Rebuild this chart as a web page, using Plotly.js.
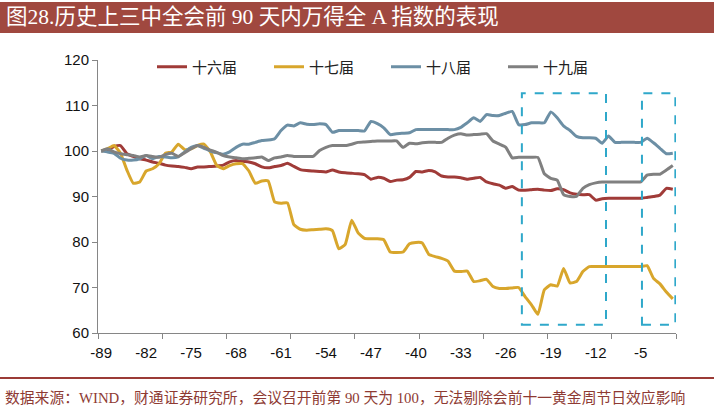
<!DOCTYPE html>
<html>
<head>
<meta charset="utf-8">
<script src="https://cdn.plot.ly/plotly-3.0.1.min.js"></script>
<style>
  body { margin: 0; background: #fff; }
  #chart { width: 714px; height: 419px; }
</style>
</head>
<body>
<div id="chart"></div>
<script>
// days before the plenum (day -89 = 100)
var days = [-89,-88,-87,-86,-85,-84,-83,-82,-81,-80,-79,-78,-77,-76,-75,-74,-73,-72,-71,-70,
  -69,-68,-67,-66,-65,-64,-63,-62,-61,-60,-59,-58,-57,-56,-55,-54,-53,-52,-51,-50,
  -49,-48,-47,-46,-45,-44,-43,-42,-41,-40,-39,-38,-37,-36,-35,-34,-33,-32,-31,-30,
  -29,-28,-27,-26,-25,-24,-23,-22,-21,-20,-19,-18,-17,-16,-15,-14,-13,-12,-11,-10,
  -9,-8,-7,-6,-5,-4,-3,-2,-1,0];

var tickDays = [-89,-82,-75,-68,-61,-54,-47,-40,-33,-26,-19,-12,-5];

var names = ['十六届', '十七届', '十八届', '十九届'];

var s16 = [100,100.3,101,101.2,99.4,98.8,98.3,98,97.6,97.3,96.9,96.7,96.6,96.4,96.1,96.5,96.5,96.6,96.7,96.9,
  97.6,97.9,97.7,97.6,97.2,96.5,96.3,96.6,96.8,97.3,96.6,95.9,95.7,95.6,95.5,95.4,95.8,95.4,95.2,95.1,
  95,94.8,93.8,94.2,94,93.3,93.6,93.7,94.2,95.5,95.4,95.7,95.4,94.5,94.3,94.3,94.1,93.8,94,94.2,
  93.2,92.8,92.5,91.8,92.2,91.4,91.4,91.5,91.6,91.4,91.3,91.7,91.5,90.8,90.5,90.4,90.4,89.2,89.5,89.6,
  89.6,89.6,89.6,89.6,89.6,89.8,90,90.3,91.8,91.6];

var s17 = [100,100.5,101.2,99.5,95.8,92.9,93.2,95.6,96.1,97.2,99.5,99.8,101.5,100.3,100.5,101.2,101.5,99.8,96.8,96.1,
  96.8,97.2,97.2,95.6,92.9,93.4,93.4,88.8,88.5,88.6,83.8,82.8,82.6,82.7,82.8,82.9,82.5,78.5,79.5,84.8,
  82,80.8,80.7,80.7,80.5,77.8,77.7,77.8,79.6,79.9,79.8,77.3,76.8,76.4,75.8,73.6,73.5,73.6,71.3,71.5,
  71.8,70.2,69.8,69.8,69.9,70,68,66.2,64.1,69.5,70.6,70.3,74.2,71,71.3,73.5,74.6,74.6,74.6,74.6,
  74.6,74.6,74.6,74.6,74.6,74.8,72,70.8,69,67.5];

var s18 = [100,99.8,99.5,98.4,98,98,98.3,99,98.3,98.8,98.7,98.5,98.7,99.8,100.8,101.2,100.6,100,99.6,99.3,
  99.8,100.8,101.5,101.5,101.9,102.3,102.4,102.7,104.5,105.7,105.5,106.2,105.9,105.8,106,105.8,104.1,104.5,104.5,104.5,
  104.5,104.4,106.5,106,105.1,103.6,103.8,103.9,104,104.7,104.7,104.7,104.7,104.7,104.7,104.7,105.2,106.2,107.3,106.5,
  108,107.8,107.8,108.3,108.7,105.8,105.8,106.2,106.2,106.2,108.6,107.3,105.5,104.5,103.2,102.9,102.9,102.8,101.7,103.3,
  101.9,101.9,101.9,101.9,101.9,102.8,101.8,100.6,99.4,99.5];

var s19 = [100,100.5,99.8,99.4,99.2,99,98.7,99,98.8,98.6,99.2,99.5,98.8,99.6,100.5,101.2,100.8,100.2,99.7,99,
  98.7,98.5,98.3,98.4,98.5,98.7,97.9,98.5,98.7,99,98.8,98.8,98.8,98.8,100.1,100.8,101.2,101.2,101.2,101.5,
  101.9,102,102.1,102.2,102.2,102.2,102.2,100.8,101.7,101.6,101.8,101.9,101.9,101.9,102.8,103.5,103.8,103.5,103.6,103.7,
  103.8,102.2,101.5,100.8,98.5,98.6,98.6,98.6,98.6,95,94,93.6,90.4,90,90,91.8,92.6,93,93.2,93.2,
  93.2,93.2,93.2,93.2,93.2,94.7,94.9,94.9,95.8,96.8];

var colors = ['#A03B38', '#D8A62C', '#6C8FA5', '#808080'];
var series = [s16, s17, s18, s19];

var traces = series.map(function(s, k) {
  return {
    x: days,
    y: s,
    name: names[k],
    type: 'scatter',
    mode: 'lines',
    line: {color: colors[k], width: 3, shape: 'spline', smoothing: 0.4}
  };
});

// pixel helpers for the decorations outside the plot area
var L = 98, R = 38, T = 60, B = 86, W = 714, H = 419;
function px(x) { return (x - L) / (W - L - R); }
function py(y) { return (H - B - y) / (H - T - B); }

var boxStyle = {color: '#2FA8CA', width: 2, dash: 'dash'};

var layout = {
  width: W,
  height: H,
  margin: {l: L, r: R, t: T, b: B},
  paper_bgcolor: '#fff',
  plot_bgcolor: '#fff',
  showlegend: true,
  legend: {
    orientation: 'h',
    x: px(152), y: py(67), xanchor: 'left', yanchor: 'middle',
    entrywidth: 72,
    font: {family: 'Noto Sans CJK SC', size: 15, color: '#222'},
    bgcolor: 'rgba(0,0,0,0)'
  },
  xaxis: {
    range: [-89.5, 0.5],
    tickmode: 'array',
    tickvals: tickDays,
    ticktext: tickDays.map(String),
    ticks: '',
    ticklabelstandoff: 6,
    showgrid: false,
    zeroline: false,
    showline: true,
    linecolor: '#868686',
    linewidth: 1,
    tickfont: {family: 'Liberation Sans', size: 15, color: '#111'},
    minor: {tickmode: 'linear', tick0: -89.5, dtick: 10, ticks: 'outside', ticklen: 5, tickcolor: '#868686', showgrid: false}
  },
  yaxis: {
    range: [60, 120],
    dtick: 10,
    ticks: 'outside',
    ticklen: 5,
    tickcolor: '#868686',
    showgrid: false,
    zeroline: false,
    showline: true,
    linecolor: '#868686',
    linewidth: 1,
    tickfont: {family: 'Liberation Sans', size: 15, color: '#111'}
  },
  shapes: [
    // title bar
    {type: 'rect', xref: 'paper', yref: 'paper', x0: px(0), x1: px(714), y0: py(2), y1: py(33),
      fillcolor: '#A0483F', line: {width: 0}, layer: 'below'},
    // footer rule
    {type: 'line', xref: 'paper', yref: 'paper', x0: px(0), x1: px(714), y0: py(378), y1: py(378),
      line: {color: '#9B3B36', width: 2}},
    // highlight boxes
    {type: 'rect', xref: 'x', yref: 'y', x0: -23.5, x1: -10.4, y0: 61.8, y1: 112.7, line: boxStyle},
    {type: 'rect', xref: 'x', yref: 'y', x0: -4.8, x1: 0.4, y0: 61.8, y1: 112.7, line: boxStyle}
  ],
  annotations: [
    {text: '图28.历史上三中全会前 90 天内万得全 A 指数的表现', xref: 'paper', yref: 'paper',
      x: px(4), y: py(17), xanchor: 'left', yanchor: 'middle', showarrow: false,
      font: {family: 'Liberation Serif, Noto Sans CJK SC', size: 21.5, color: '#fff'}},
    {text: '数据来源：WIND，财通证券研究所，会议召开前第 90 天为 100，无法剔除会前十一黄金周节日效应影响',
      xref: 'paper', yref: 'paper', x: px(3), y: py(397), xanchor: 'left', yanchor: 'middle', showarrow: false,
      font: {family: 'Liberation Serif, Noto Sans CJK SC', size: 14.8, color: '#8E3A33'}}
  ]
};

var config = {
  responsive: false,
  displayModeBar: false,
  staticPlot: true
};

Plotly.newPlot('chart', traces, layout, config);
</script>
</body>
</html>
